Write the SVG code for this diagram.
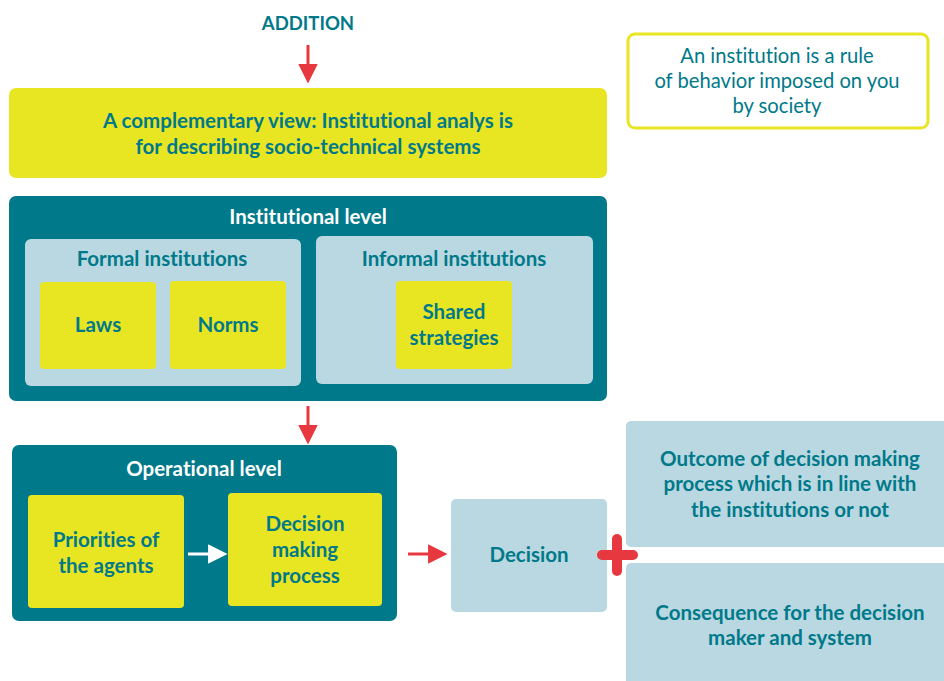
<svg xmlns="http://www.w3.org/2000/svg" width="944" height="681" viewBox="0 0 944 681">
  <defs>
    <style>
      text { font-family: Lato, "Open Sans", "Liberation Sans", sans-serif; font-weight: 700; text-anchor: middle; fill: #00798A; font-variant-ligatures: none; }
      .t19 { font-size: 20.5px; }
      .t18 { font-size: 18.5px; }
      .white { fill: #ffffff; }
      .note { font-weight: 400; font-size: 20.2px; }
      .yellow { fill: #E8E622; }
      .teal { fill: #00798A; }
      .pale { fill: #B9D8E1; }
      .red-line { stroke: #E8383F; stroke-width: 3; fill: none; }
      .white-line { stroke: #ffffff; stroke-width: 3; fill: none; }
    </style>
    <marker id="redHead" viewBox="0 0 10 10" refX="1" refY="5" markerWidth="6.5" markerHeight="6.5" markerUnits="strokeWidth" orient="auto">
      <path d="M0,0 L10,5 L0,10 Z" fill="#E8383F"/>
    </marker>
    <marker id="whiteHead" viewBox="0 0 10 10" refX="1" refY="5" markerWidth="6.5" markerHeight="6.5" markerUnits="strokeWidth" orient="auto">
      <path d="M0,0 L10,5 L0,10 Z" fill="#ffffff"/>
    </marker>
  </defs>

  <rect width="944" height="681" fill="#ffffff"/>

  <g id="addition-label">
    <text class="t18" x="308" y="30">ADDITION</text>
  </g>

  <g id="note">
    <rect x="628" y="34" width="300" height="94" rx="7" fill="#ffffff" stroke="#E8E622" stroke-width="3"/>
    <text class="note" x="777" y="63">An institution is a rule</text>
    <text class="note" x="777" y="88">of behavior imposed on you</text>
    <text class="note" x="777" y="113">by society</text>
  </g>

  <g id="complementary-view">
    <rect class="yellow" x="9" y="88" width="598" height="90" rx="7"/>
    <text class="t19" x="308" y="128">A complementary view: Institutional analys is</text>
    <text class="t19" x="308" y="154">for describing socio-technical systems</text>
  </g>

  <g id="institutional-level">
    <rect class="teal" x="9" y="196" width="598" height="205" rx="7"/>
    <text class="t19 white" x="308" y="224">Institutional level</text>
  </g>

  <g id="formal-institutions">
    <rect class="pale" x="25" y="239" width="276" height="147" rx="6"/>
    <text class="t19" x="162" y="266">Formal institutions</text>
  </g>

  <g id="laws">
    <rect class="yellow" x="40" y="282" width="116" height="87" rx="4"/>
    <text class="t19" x="98" y="332">Laws</text>
  </g>

  <g id="norms">
    <rect class="yellow" x="170" y="281" width="116" height="88" rx="4"/>
    <text class="t19" x="228" y="332">Norms</text>
  </g>

  <g id="informal-institutions">
    <rect class="pale" x="316" y="236" width="277" height="148" rx="6"/>
    <text class="t19" x="454" y="266">Informal institutions</text>
  </g>

  <g id="shared-strategies">
    <rect class="yellow" x="396" y="281" width="116" height="88" rx="4"/>
    <text class="t19" x="454" y="319">Shared</text>
    <text class="t19" x="454" y="345">strategies</text>
  </g>

  <g id="operational-level">
    <rect class="teal" x="12" y="445" width="385" height="176" rx="7"/>
    <text class="t19 white" x="204" y="476">Operational level</text>
  </g>

  <g id="priorities">
    <rect class="yellow" x="28" y="495" width="156" height="113" rx="4"/>
    <text class="t19" x="106" y="547">Priorities of</text>
    <text class="t19" x="106" y="573">the agents</text>
  </g>

  <g id="decision-making-process">
    <rect class="yellow" x="228" y="493" width="154" height="113" rx="4"/>
    <text class="t19" x="305" y="531">Decision</text>
    <text class="t19" x="305" y="557">making</text>
    <text class="t19" x="305" y="583">process</text>
  </g>

  <g id="decision">
    <rect class="pale" x="451" y="499" width="156" height="113" rx="5"/>
    <text class="t19" x="529" y="562">Decision</text>
  </g>

  <g id="outcome">
    <rect class="pale" x="626" y="421" width="330" height="126" rx="5"/>
    <text class="t19" x="790" y="466">Outcome of decision making</text>
    <text class="t19" x="790" y="491">process which is in line with</text>
    <text class="t19" x="790" y="517">the institutions or not</text>
  </g>

  <g id="consequence">
    <rect class="pale" x="626" y="563" width="330" height="130" rx="5"/>
    <text class="t19" x="790" y="620">Consequence for the decision</text>
    <text class="t19" x="790" y="645">maker and system</text>
  </g>

  <g id="connectors">
    <line class="red-line" x1="308" y1="45" x2="308" y2="66" marker-end="url(#redHead)"/>
    <line class="red-line" x1="308" y1="406" x2="308" y2="427" marker-end="url(#redHead)"/>
    <line class="white-line" x1="188" y1="554" x2="210" y2="554" marker-end="url(#whiteHead)"/>
    <line class="red-line" x1="408" y1="554" x2="430" y2="554" marker-end="url(#redHead)"/>
    <!-- plus sign joining the decision to its two results -->
    <path d="M602,555 H633 M617,539 V571" stroke="#E8383F" stroke-width="10" stroke-linecap="round" fill="none"/>
  </g>
</svg>
